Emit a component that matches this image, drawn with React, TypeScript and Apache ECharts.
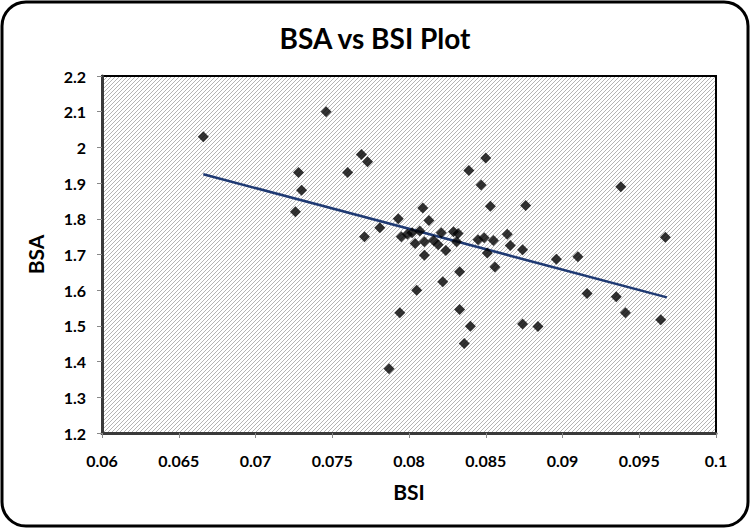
import React, { useEffect, useRef } from "react";
import * as echarts from "echarts";

// BSI (x) values of the observations
const bsiValues: number[] = [
  0.0666, 0.0728, 0.073, 0.0726, 0.0746, 0.0769, 0.0773, 0.076, 0.0839, 0.085,
  0.0847, 0.0853, 0.0809, 0.0813, 0.0793, 0.0781, 0.0771, 0.0864, 0.0938, 0.0876,
  0.0967, 0.0866, 0.0874, 0.0896, 0.091, 0.0916, 0.0935, 0.0941, 0.0964, 0.0874,
  0.0884, 0.081, 0.0824, 0.0851, 0.0856, 0.0833, 0.0822, 0.0805, 0.0794, 0.0833,
  0.084, 0.0836, 0.0787, 0.0807, 0.0795, 0.0799, 0.0802, 0.0821, 0.0829, 0.0832,
  0.0804, 0.081, 0.0816, 0.0819, 0.0831, 0.0845, 0.0849, 0.0855,
];
// BSA (y) values of the observations
const bsaValues: number[] = [
  2.03, 1.93, 1.88, 1.82, 2.1, 1.98, 1.96, 1.93, 1.935, 1.97,
  1.895, 1.835, 1.83, 1.795, 1.8, 1.775, 1.75, 1.757, 1.89, 1.837,
  1.748, 1.725, 1.713, 1.687, 1.694, 1.591, 1.582, 1.537, 1.517, 1.505,
  1.498, 1.698, 1.711, 1.704, 1.665, 1.652, 1.624, 1.6, 1.537, 1.546,
  1.499, 1.451, 1.38, 1.766, 1.75, 1.757, 1.761, 1.761, 1.764, 1.759,
  1.731, 1.736, 1.739, 1.727, 1.736, 1.741, 1.747, 1.739,
];
// Trend line end points
const trendX: number[] = [0.0666, 0.0968];
const trendY: number[] = [1.925, 1.58];

const xTicks = { min: 0.06, max: 0.1, interval: 0.005 };
const yTicks = { min: 1.2, max: 2.2, interval: 0.1 };

const FONT = "Lato";

const hatchSvg =
  "<svg xmlns='http://www.w3.org/2000/svg' width='4' height='4'>" +
  "<rect width='4' height='4' fill='#ffffff'/>" +
  "<path d='M-1,1 L1,-1 M0,4 L4,0 M3,5 L5,3' stroke='#b4b4b4' stroke-width='1'/>" +
  "</svg>";
const hatchUrl = "data:image/svg+xml;charset=utf-8," + encodeURIComponent(hatchSvg);

export default function App() {
  const ref = useRef<HTMLDivElement>(null);
  useEffect(() => {
    if (!ref.current) return;
    const chart = echarts.init(ref.current, undefined, { renderer: "svg" });
    const points = bsiValues.map((x, i) => [x, bsaValues[i]]);
    const trend = trendX.map((x, i) => [x, trendY[i]]);
    chart.setOption({
      animation: false,
      backgroundColor: "#ffffff",
      title: {
        text: "BSA vs BSI Plot",
        left: "center",
        top: 19,
        textStyle: { fontFamily: FONT, fontWeight: "bold", fontSize: 28, color: "#000" },
      },
      graphic: [
        {
          type: "rect",
          shape: { x: 2, y: 2, width: 746, height: 524, r: 24 },
          style: { fill: "none", stroke: "#000", lineWidth: 3 },
          z: 100,
          silent: true,
        },
      ],
      grid: {
        left: 102,
        top: 76,
        right: 34,
        bottom: 95,
        show: true,
        borderColor: "#000",
        borderWidth: 2,
        backgroundColor: { image: hatchUrl, repeat: "repeat" } as any,
      },
      xAxis: {
        type: "value",
        min: xTicks.min,
        max: xTicks.max,
        interval: xTicks.interval,
        name: "BSI",
        nameLocation: "middle",
        nameGap: 48,
        nameTextStyle: { fontFamily: FONT, fontWeight: "bold", fontSize: 21, color: "#000" },
        axisLine: { show: true, lineStyle: { color: "#3a3a3a", width: 3 } },
        axisTick: { show: true, length: 5, lineStyle: { color: "#888" } },
        splitLine: { show: false },
        axisLabel: {
          margin: 19,
          fontFamily: FONT,
          fontWeight: "bold",
          fontSize: 16,
          color: "#000",
        },
      },
      yAxis: {
        type: "value",
        min: yTicks.min,
        max: yTicks.max,
        interval: yTicks.interval,
        name: "BSA",
        nameLocation: "middle",
        nameGap: 56,
        nameTextStyle: { fontFamily: FONT, fontWeight: "bold", fontSize: 21, color: "#000" },
        axisLine: { show: true, lineStyle: { color: "#3a3a3a", width: 3 } },
        axisTick: { show: true, length: 5, lineStyle: { color: "#888" } },
        splitLine: { show: false },
        axisLabel: {
          margin: 16,
          fontFamily: FONT,
          fontWeight: "bold",
          fontSize: 16,
          color: "#000",
        },
      },
      series: [
        {
          type: "scatter",
          data: points,
          symbol: "diamond",
          symbolSize: 11,
          itemStyle: { color: "#000" },
          z: 3,
        },
        {
          type: "line",
          data: trend,
          showSymbol: false,
          symbol: "none",
          lineStyle: { color: "#1f3a73", width: 2.5 },
          z: 2,
        },
      ],
    });
    return () => chart.dispose();
  }, []);
  return (
    <div
      ref={ref}
      style={{ position: "absolute", left: 0, top: 0, width: 750, height: 528 }}
    />
  );
}
